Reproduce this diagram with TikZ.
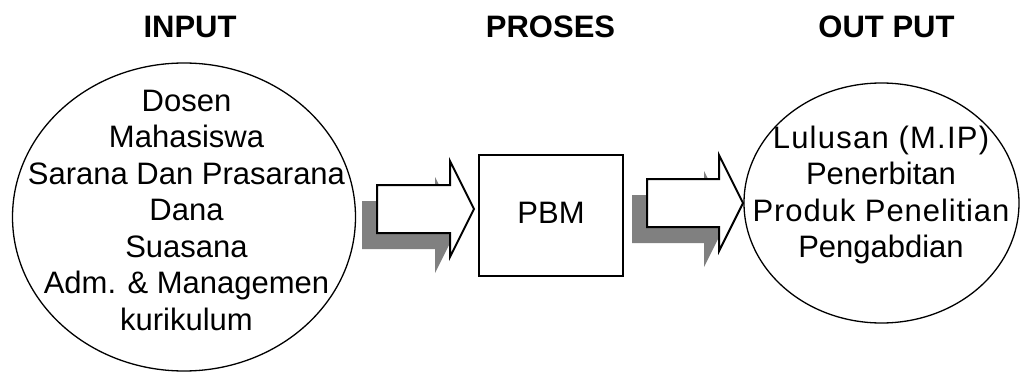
\documentclass[tikz,border=0pt]{standalone}
\usepackage{fontspec}
\setmainfont{Liberation Sans}
\usetikzlibrary{shapes.geometric}
\definecolor{shadowgray}{RGB}{128,128,128}
\tikzset{
  title/.style={font=\fontsize{31}{36.5}\selectfont\bfseries, anchor=base, inner sep=0pt},
  body/.style={font=\fontsize{31}{36.5}\selectfont, align=center, inner sep=0pt},
  oval/.style={draw, ellipse, line width=1.3pt, inner sep=0pt},
  procbox/.style={draw, rectangle, line width=2pt, inner sep=0pt},
  blockarrow/.style={draw, fill=white, line width=2pt, line join=miter},
  arrowshadow/.style={fill=shadowgray, draw=none},
}
\begin{document}
\begin{tikzpicture}[x=1pt, y=-1pt]
\useasboundingbox (0,0) rectangle (1021,372);
% titles
\node[title] (tin) at (190,37.7) {INPUT};
\node[title] (tpr) at (550.5,37.7) {PROSES};
\node[title] (tout) at (886.5,37.7) {OUT PUT};
% input ellipse
\node[oval, minimum width=343pt, minimum height=308pt] (inp) at (184,217) {};
\node[body, anchor=north] (inptxt) at (186.5,89.8) {Dosen\\Mahasiswa\\Sarana Dan Prasarana\\Dana\\Suasana\\Adm. \& Managemen\\kurikulum};
% process box
\node[procbox, minimum width=144pt, minimum height=121pt] (pbm) at (551,215.5) {};
\node[body, anchor=base] (pbmtxt) at (551,223) {PBM};
% output ellipse
\node[oval, minimum width=275pt, minimum height=240pt] (out) at (881.5,203) {};
\node[body, anchor=north] (outtxt) at (881,125.4) {{\addfontfeature{LetterSpace=4}Lulusan (M.IP)}\\Penerbitan\\{\addfontfeature{LetterSpace=3}Produk Penelitian}\\Pengabdian};
% arrow 1
\begin{scope}[shift={(-15,16)}]
\fill[arrowshadow] (377,185) -- (450,185) -- (450,161) -- (474,209) -- (450,257) -- (450,233) -- (377,233) -- cycle;
\end{scope}
\draw[blockarrow] (377,185) -- (450,185) -- (450,161) -- (474,209) -- (450,257) -- (450,233) -- (377,233) -- cycle;
% arrow 2
\begin{scope}[shift={(-15,16)}]
\fill[arrowshadow] (647,179) -- (719,179) -- (719,155) -- (743,203) -- (719,251) -- (719,227) -- (647,227) -- cycle;
\end{scope}
\draw[blockarrow] (647,179) -- (719,179) -- (719,155) -- (743,203) -- (719,251) -- (719,227) -- (647,227) -- cycle;
\end{tikzpicture}
\end{document}
